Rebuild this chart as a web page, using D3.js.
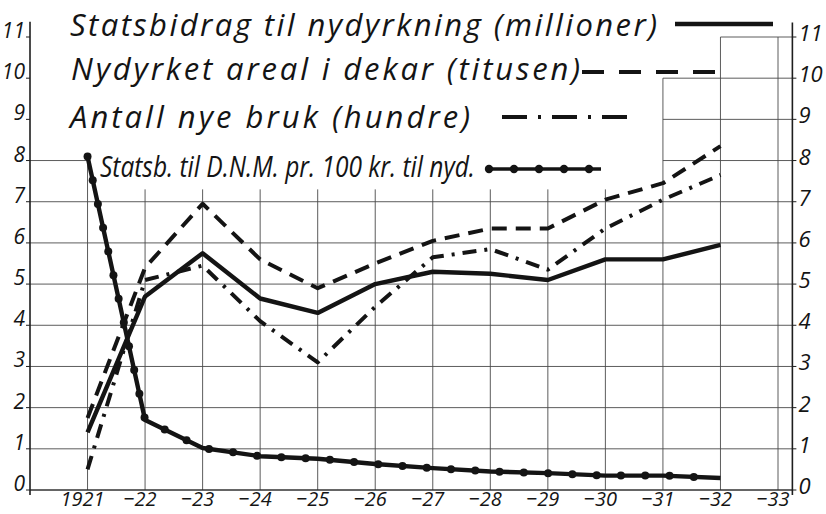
<!DOCTYPE html>
<html><head><meta charset="utf-8">
<script src="https://cdn.jsdelivr.net/npm/d3@7"></script>
<style>body{margin:0;background:#fff}svg{display:block}</style>
</head><body>
<svg id="c" width="826" height="514"></svg>
<script>
// ---- data ----
const years = [1921,1922,1923,1924,1925,1926,1927,1928,1929,1930,1931,1932];
const statsbidrag = [1.4,4.7,5.75,4.65,4.3,5.0,5.3,5.25,5.1,5.6,5.6,5.95];
const areal = [1.75,5.4,6.95,5.6,4.9,5.5,6.05,6.35,6.35,7.05,7.45,8.35];
const bruk = [0.5,5.1,5.45,4.1,3.1,4.45,5.65,5.85,5.35,6.35,7.05,7.65];
const dnm = [8.1,1.7,1.02,0.82,0.76,0.63,0.53,0.45,0.41,0.35,0.35,0.29];
const xTickYears = [1921,1922,1923,1924,1925,1926,1927,1928,1929,1930,1931,1932,1933];
const xTickLabels = ["1921","−22","−23","−24","−25","−26","−27","−28","−29","−30","−31","−32","−33"];
const yTicks = [0,1,2,3,4,5,6,7,8,9,10,11];
const gridTop = [8,7.3,7.3,7.3,7.3,7.3,7.3,7.3,7.3,7.3,10,11,11]; // top of each vertical grid line
const legendLabels = ["Statsbidrag til nydyrkning (millioner)","Nydyrket areal i dekar (titusen)","Antall nye bruk (hundre)","Statsb. til D.N.M. pr. 100 kr. til nyd."];

// ---- scales ----
const x = d3.scaleLinear().domain([1920,1933]).range([30,778]);
const y = d3.scaleLinear().domain([0,11]).range([490,37]);
const svg = d3.select("#c");
const font = "'Open Sans', 'DejaVu Sans', sans-serif";
const ink = "#141414";
const rightX = x(1933.25);

// ---- grid ----
const g = svg.append("g").attr("stroke","#4a4a4a").attr("stroke-width",0.9);
const hSegs = [];
for (let v=0; v<=7; v++) hSegs.push([v,1920,1933.25]);
hSegs.push([8,1920,1921],[8,1931,1933.25],[9,1931,1933.25],[10,1931,1933.25],[11,1932,1933.25]);
g.selectAll("line.h").data(hSegs).enter().append("line")
  .attr("x1",d=>x(d[1])).attr("x2",d=>x(d[2])).attr("y1",d=>y(d[0])).attr("y2",d=>y(d[0]));
g.selectAll("line.v").data(xTickYears).enter().append("line")
  .attr("x1",d=>x(d)).attr("x2",d=>x(d)).attr("y1",(d,i)=>y(gridTop[i])).attr("y2",y(0));

// ---- axes ----
const ax = svg.append("g").attr("stroke","#1e1e1e").attr("stroke-width",1.6);
ax.append("line").attr("x1",x(1920)).attr("x2",x(1920)).attr("y1",y(11.37)).attr("y2",y(-0.12));
ax.append("line").attr("x1",rightX).attr("x2",rightX).attr("y1",y(11.35)).attr("y2",y(-0.12));
ax.append("line").attr("x1",x(1920)).attr("x2",rightX).attr("y1",y(0)).attr("y2",y(0)).attr("stroke-width",1.2);
ax.selectAll("line.lt").data(yTicks).enter().append("line")
  .attr("x1",x(1920)-4).attr("x2",x(1920)).attr("y1",d=>y(d)).attr("y2",d=>y(d)).attr("stroke-width",1);
ax.selectAll("line.rt").data(yTicks).enter().append("line")
  .attr("x1",rightX).attr("x2",rightX+4).attr("y1",d=>y(d)).attr("y2",d=>y(d)).attr("stroke-width",1);

svg.append("g").selectAll("text").data(yTicks).enter().append("text")
  .attr("x",x(1920)-5).attr("y",d=>y(d)+1).attr("text-anchor","end")
  .attr("font-family",font).attr("font-style","italic").attr("font-size",21).attr("fill",ink).text(d=>d);
svg.append("g").selectAll("text").data(yTicks).enter().append("text")
  .attr("x",rightX+6).attr("y",d=>y(d)+4).attr("text-anchor","start")
  .attr("font-family",font).attr("font-style","italic").attr("font-size",22).attr("fill",ink).text(d=>d);
svg.append("g").selectAll("text").data(xTickYears).enter().append("text")
  .attr("x",d=>x(d)-5).attr("y",506).attr("text-anchor","middle")
  .attr("font-family",font).attr("font-style","italic").attr("font-size",20).attr("fill",ink)
  .text((d,i)=>xTickLabels[i]);

// ---- series ----
const line = d3.line().x((d,i)=>x(years[i])).y(d=>y(d));
const series = svg.append("g").attr("fill","none").attr("stroke",ink).attr("stroke-linejoin","round");
series.append("path").datum(areal).attr("d",line).attr("stroke-width",4).attr("stroke-dasharray","15,9");
series.append("path").datum(bruk).attr("d",line).attr("stroke-width",4).attr("stroke-dasharray","14,8,3,8");
series.append("path").datum(statsbidrag).attr("d",line).attr("stroke-width",4.4);
const dnmPath = series.append("path").datum(dnm).attr("d",line).attr("stroke-width",4.4);
const node = dnmPath.node(), L = node.getTotalLength();
const beads = [];
for (let s=0; s<L-8; s+=24.3) { const p = node.getPointAtLength(s); beads.push([p.x,p.y]); }
svg.append("g").selectAll("circle").data(beads).enter().append("circle")
  .attr("cx",d=>d[0]).attr("cy",d=>d[1]).attr("r",4).attr("fill",ink);

// ---- legend ----
const lg = svg.append("g").attr("font-family",font).attr("font-style","italic").attr("fill",ink);
const legendPos = [[70,36,587,31],[71,80,509,31],[70,128,400,31],[100,177,375,29]];
lg.selectAll("text").data(legendLabels).enter().append("text")
  .attr("x",(d,i)=>legendPos[i][0]).attr("y",(d,i)=>legendPos[i][1])
  .attr("font-size",(d,i)=>legendPos[i][3])
  .attr("textLength",(d,i)=>legendPos[i][2])
  .attr("lengthAdjust",(d,i)=>i===3?"spacingAndGlyphs":"spacing")
  .text(d=>d);
const ls = svg.append("g").attr("stroke",ink).attr("fill","none");
ls.append("line").attr("x1",675).attr("x2",773).attr("y1",24).attr("y2",24).attr("stroke-width",4.4);
ls.append("line").attr("x1",582).attr("x2",716).attr("y1",72).attr("y2",72).attr("stroke-width",4).attr("stroke-dasharray","22,15");
ls.append("line").attr("x1",502).attr("x2",628).attr("y1",117).attr("y2",117).attr("stroke-width",4).attr("stroke-dasharray","25,11,3,11");
ls.append("line").attr("x1",489).attr("x2",601).attr("y1",169).attr("y2",169).attr("stroke-width",3.6);
svg.append("g").selectAll("circle").data([0,1,2,3,4]).enter().append("circle")
  .attr("cx",d=>489+d*25).attr("cy",169).attr("r",4.2).attr("fill",ink);
</script>
</body></html>
